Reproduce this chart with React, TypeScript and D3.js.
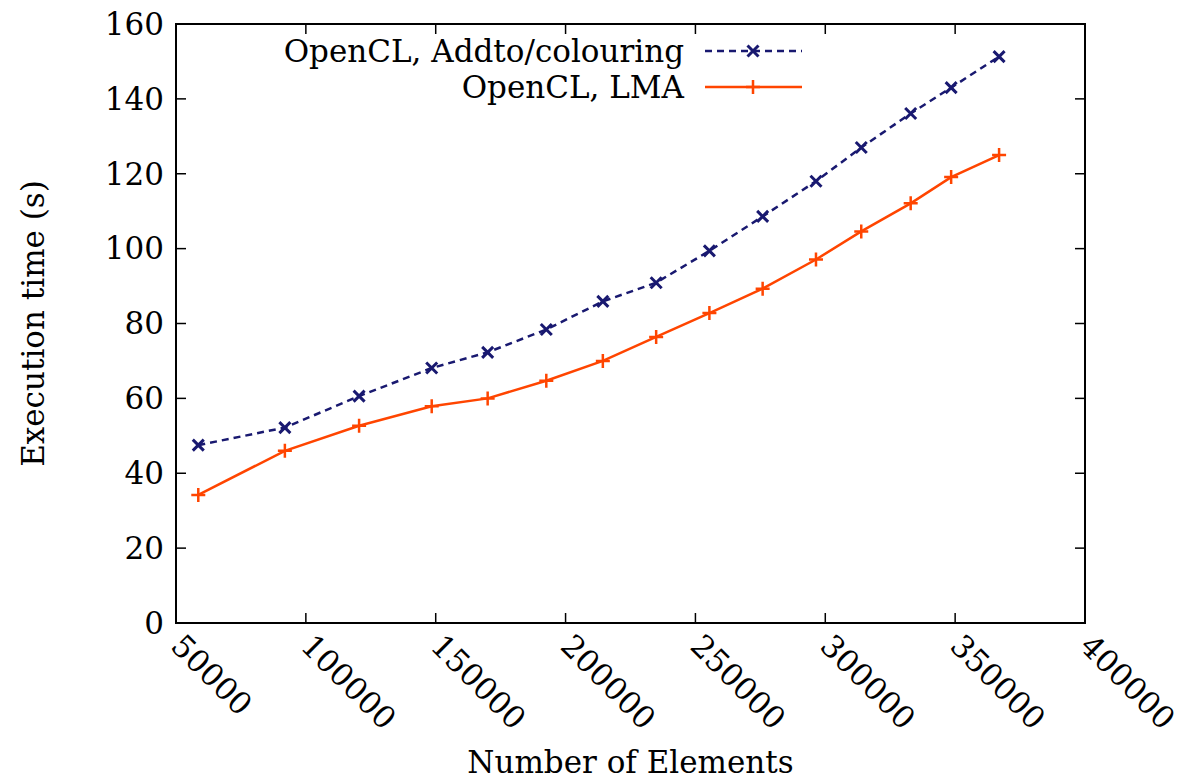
import React, { useEffect, useRef } from 'react';
import * as d3 from 'd3';

const elements = [58580, 91920, 120500, 148460, 170000, 192580, 214350, 234880, 255380, 275880, 296420, 313850, 332880, 348460, 366920];
const addtoTimes = [47.5, 52.2, 60.6, 68.1, 72.3, 78.4, 85.9, 90.9, 99.4, 108.6, 118.0, 127.0, 136.1, 143.0, 151.3];
const lmaTimes = [34.2, 46.0, 52.7, 57.9, 60.0, 64.7, 70.0, 76.4, 82.8, 89.3, 97.1, 104.6, 112.1, 119.1, 125.0];
const xTicks = [50000, 100000, 150000, 200000, 250000, 300000, 350000, 400000];
const yTicks = [0, 20, 40, 60, 80, 100, 120, 140, 160];
const seriesNames = ['OpenCL, Addto/colouring', 'OpenCL, LMA'];

const FONT = '"DejaVu Serif", "Liberation Serif", serif';
const FS = 31;
const BLUE = '#191970';
const ORANGE = '#ff4500';

function drawChart(container: HTMLDivElement) {
  d3.select(container).selectAll('*').remove();

  const W = 1182, H = 782;
  const margin = { top: 24, right: 97, bottom: 159, left: 176 };
  const width = W - margin.left - margin.right;
  const height = H - margin.top - margin.bottom;

  const svg = d3.select(container).append('svg')
    .attr('width', W)
    .attr('height', H)
    .style('display', 'block')
    .style('background', '#fff');

  const g = svg.append('g').attr('transform', `translate(${margin.left},${margin.top})`);

  const x = d3.scaleLinear().domain([50000, 400000]).range([0, width]);
  const y = d3.scaleLinear().domain([0, 160]).range([height, 0]);

  const tickLen = 10;

  // inward ticks on all four sides
  g.selectAll('.ytick').data(yTicks.slice(1, -1)).enter().append('g').each(function (d) {
    const s = d3.select(this);
    s.append('line').attr('x1', 0).attr('x2', tickLen).attr('y1', y(d)).attr('y2', y(d)).attr('stroke', '#000').attr('stroke-width', 1.5);
    s.append('line').attr('x1', width).attr('x2', width - tickLen).attr('y1', y(d)).attr('y2', y(d)).attr('stroke', '#000').attr('stroke-width', 1.5);
  });
  g.selectAll('.xtick').data(xTicks.slice(1, -1)).enter().append('g').each(function (d) {
    const s = d3.select(this);
    s.append('line').attr('x1', x(d)).attr('x2', x(d)).attr('y1', height).attr('y2', height - tickLen).attr('stroke', '#000').attr('stroke-width', 1.5);
    s.append('line').attr('x1', x(d)).attr('x2', x(d)).attr('y1', 0).attr('y2', tickLen).attr('stroke', '#000').attr('stroke-width', 1.5);
  });

  // y tick labels
  g.selectAll('.ylab').data(yTicks).enter().append('text')
    .attr('x', -12)
    .attr('y', d => y(d))
    .attr('dy', '0.35em')
    .attr('text-anchor', 'end')
    .attr('font-family', FONT)
    .attr('font-size', FS)
    .text(d => d);

  // x tick labels rotated
  g.selectAll('.xlab').data(xTicks).enter().append('text')
    .attr('transform', d => `translate(${x(d) + 1},${height + 17}) rotate(45)`)
    .attr('dy', '0.35em')
    .attr('text-anchor', 'start')
    .attr('font-family', FONT)
    .attr('font-size', FS)
    .text(d => d);

  // frame
  g.append('rect')
    .attr('width', width).attr('height', height)
    .attr('fill', 'none').attr('stroke', '#000').attr('stroke-width', 2);

  // axis titles
  svg.append('text')
    .attr('x', margin.left + width / 2)
    .attr('y', 773)
    .attr('text-anchor', 'middle')
    .attr('font-family', FONT)
    .attr('font-size', FS)
    .text('Number of Elements');

  svg.append('text')
    .attr('transform', `translate(44,${margin.top + height / 2}) rotate(-90)`)
    .attr('text-anchor', 'middle')
    .attr('font-family', FONT)
    .attr('font-size', FS)
    .text('Execution time (s)');

  const line = d3.line<[number, number]>().x(d => x(d[0])).y(d => y(d[1]));

  const addto: [number, number][] = elements.map((e, i) => [e, addtoTimes[i]]);
  const lma: [number, number][] = elements.map((e, i) => [e, lmaTimes[i]]);

  const crossPath = (cx: number, cy: number, r: number) =>
    `M${cx - r},${cy - r}L${cx + r},${cy + r}M${cx - r},${cy + r}L${cx + r},${cy - r}`;
  const plusPath = (cx: number, cy: number, r: number) =>
    `M${cx - r},${cy}L${cx + r},${cy}M${cx},${cy - r}L${cx},${cy + r}`;

  g.append('path').datum(addto)
    .attr('d', line)
    .attr('fill', 'none')
    .attr('stroke', BLUE)
    .attr('stroke-width', 2.5)
    .attr('stroke-dasharray', '7,5');
  g.selectAll('.mx').data(addto).enter().append('path')
    .attr('d', d => crossPath(x(d[0]), y(d[1]), 5.5))
    .attr('stroke', BLUE)
    .attr('stroke-width', 3);

  g.append('path').datum(lma)
    .attr('d', line)
    .attr('fill', 'none')
    .attr('stroke', ORANGE)
    .attr('stroke-width', 2.5);
  g.selectAll('.mp').data(lma).enter().append('path')
    .attr('d', d => plusPath(x(d[0]), y(d[1]), 7))
    .attr('stroke', ORANGE)
    .attr('stroke-width', 2.5);

  // legend
  const legend = svg.append('g');
  const legY = [51, 87];
  const colors = [BLUE, ORANGE];
  seriesNames.forEach((name, i) => {
    legend.append('text')
      .attr('x', 684)
      .attr('y', legY[i])
      .attr('dy', '0.35em')
      .attr('text-anchor', 'end')
      .attr('font-family', FONT)
      .attr('font-size', FS)
      .text(name);
    legend.append('line')
      .attr('x1', 705).attr('x2', 802)
      .attr('y1', legY[i]).attr('y2', legY[i])
      .attr('stroke', colors[i])
      .attr('stroke-width', 2.5)
      .attr('stroke-dasharray', i === 0 ? '7,5' : null);
    legend.append('path')
      .attr('d', i === 0 ? crossPath(753, legY[i], 5.5) : plusPath(753, legY[i], 7))
      .attr('stroke', colors[i])
      .attr('stroke-width', i === 0 ? 3 : 2.5);
  });
}

const App = () => {
  const ref = useRef<HTMLDivElement>(null);
  useEffect(() => {
    if (ref.current) drawChart(ref.current);
  }, []);
  return <div ref={ref} style={{ position: 'absolute', left: 0, top: 0 }} />;
};

export default App;
